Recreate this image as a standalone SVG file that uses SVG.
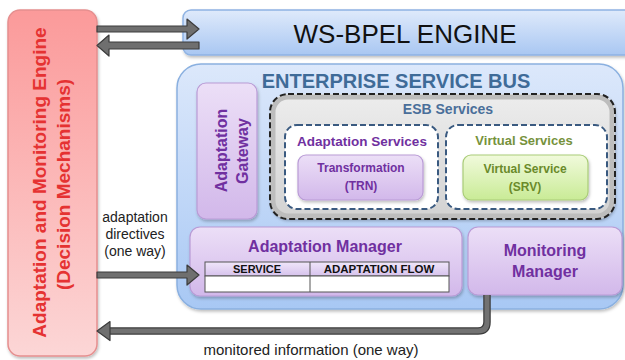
<svg xmlns="http://www.w3.org/2000/svg" width="625" height="360" viewBox="0 0 625 360">
<defs>
<linearGradient id="gRed" x1="0" y1="0" x2="0" y2="1"><stop offset="0" stop-color="#fb9a9a"/><stop offset="1" stop-color="#fcd6d6"/></linearGradient>
<linearGradient id="gBlue" x1="0" y1="0" x2="0" y2="1"><stop offset="0" stop-color="#dfeafb"/><stop offset="1" stop-color="#a9c7f2"/></linearGradient>
<linearGradient id="gEsb" x1="0" y1="0" x2="0" y2="1"><stop offset="0" stop-color="#dce8fb"/><stop offset="1" stop-color="#a8c8f4"/></linearGradient>
<linearGradient id="gPur" x1="0" y1="0" x2="0" y2="1"><stop offset="0" stop-color="#ecdff7"/><stop offset="1" stop-color="#d2b8ea"/></linearGradient>
<linearGradient id="gGray" x1="0" y1="0" x2="0" y2="1"><stop offset="0" stop-color="#ededed"/><stop offset="1" stop-color="#d2d2d2"/></linearGradient>
<linearGradient id="gGreen" x1="0" y1="0" x2="0" y2="1"><stop offset="0" stop-color="#f1fadc"/><stop offset="1" stop-color="#c9eb96"/></linearGradient>
<linearGradient id="gHead" x1="0" y1="0" x2="0" y2="1"><stop offset="0" stop-color="#f0e6fa"/><stop offset="1" stop-color="#d6c2ec"/></linearGradient>
<filter id="sh" x="-10%" y="-10%" width="120%" height="130%"><feDropShadow dx="1" dy="2" stdDeviation="1.5" flood-color="#000" flood-opacity="0.25"/></filter>
</defs>
<style>
.t{font-family:"Liberation Sans",Arial,sans-serif;font-weight:bold;text-anchor:middle}
.n{font-family:"Liberation Sans",Arial,sans-serif;text-anchor:middle;fill:#222}
.pur{fill:#7030a0}
.pbox{fill:url(#gPur);stroke:#b99bd6;stroke-width:1.2}
.arr{fill:#6f6f6f;stroke:#3c3c3c;stroke-width:1.2;stroke-linejoin:round}
.dash{stroke-dasharray:6 3;stroke-width:2}
</style>

<g id="engine">
<rect x="8" y="10" width="89" height="346" rx="12" fill="url(#gRed)" stroke="#e58f8f" stroke-width="1.5" filter="url(#sh)"/>
<text class="t" font-size="19" fill="#e53232" transform="translate(46,182.5) rotate(-90)">Adaptation and Monitoring Engine</text>
<text class="t" font-size="19" fill="#e53232" transform="translate(70,184.5) rotate(-90)">(Decision Mechanisms)</text>
</g>

<g id="wsbpel">
<rect x="183" y="10" width="450" height="45" rx="8" fill="url(#gBlue)" stroke="#8fb3e3" stroke-width="1.5" filter="url(#sh)"/>
<text x="405" y="43" font-family="'Liberation Sans',Arial,sans-serif" font-size="26" text-anchor="middle" fill="#111">WS-BPEL ENGINE</text>
</g>

<g id="esb">
<rect x="177" y="64" width="446" height="245" rx="24" fill="url(#gEsb)" stroke="#8ab0e0" stroke-width="1.5" filter="url(#sh)"/>
<text class="t" x="396" y="88" font-size="20" fill="#3f6b98">ENTERPRISE SERVICE BUS</text>
</g>

<g id="gateway">
<rect class="pbox" x="197" y="83" width="60" height="136" rx="9" filter="url(#sh)"/>
<text class="t pur" font-size="16" transform="translate(227,150.5) rotate(-90)">Adaptation</text>
<text class="t pur" font-size="16" transform="translate(248,151) rotate(-90)">Gateway</text>
</g>

<g id="esbservices">
<rect x="270" y="94" width="345" height="125" rx="18" fill="url(#gGray)" filter="url(#sh)"/>
<rect x="273" y="97" width="339" height="119" rx="15" fill="none" stroke="#bdbdbd" stroke-width="5"/>
<rect class="dash" x="270" y="94" width="345" height="125" rx="18" fill="none" stroke="#222"/>
<text class="t" x="448" y="114" font-size="14" fill="#4a6f9a">ESB Services</text>
</g>

<g id="adaptservices">
<rect class="dash" x="285" y="125" width="153" height="84" rx="12" fill="#fff" stroke="#3a5a80"/>
<text class="t pur" x="362" y="146" font-size="13.5">Adaptation Services</text>
</g>

<g id="trn">
<rect class="pbox" x="298" y="155" width="125" height="45" rx="8" filter="url(#sh)"/>
<text class="t pur" x="361" y="172" font-size="12">Transformation</text>
<text class="t pur" x="361" y="190" font-size="12">(TRN)</text>
</g>

<g id="virtualservices">
<rect class="dash" x="446" y="125" width="161" height="84" rx="12" fill="#fff" stroke="#3a5a80"/>
<text class="t" x="524" y="145" font-size="13" fill="#76923c">Virtual Services</text>
</g>

<g id="srv">
<rect x="463" y="155" width="125" height="45" rx="8" fill="url(#gGreen)" stroke="#a9cc78" stroke-width="1.2" filter="url(#sh)"/>
<text class="t" x="525" y="173" font-size="12" fill="#6a8a2a">Virtual Service</text>
<text class="t" x="525" y="191" font-size="12" fill="#6a8a2a">(SRV)</text>
</g>

<g id="adaptmanager">
<rect class="pbox" x="190" y="227" width="272" height="69" rx="10" filter="url(#sh)"/>
<text class="t pur" x="325" y="252" font-size="16">Adaptation Manager</text>
<rect x="205" y="262" width="244" height="14" fill="url(#gHead)" stroke="#555" stroke-width="1"/>
<rect x="205" y="276" width="244" height="16" fill="#fff" stroke="#555" stroke-width="1"/>
<line x1="310" y1="262" x2="310" y2="292" stroke="#555" stroke-width="1"/>
<text class="t" x="257" y="273" font-size="11" fill="#111">SERVICE</text>
<text class="t" x="379" y="273" font-size="11.5" fill="#111">ADAPTATION FLOW</text>
</g>

<g id="monmanager">
<rect class="pbox" x="468" y="227" width="154" height="68" rx="10" filter="url(#sh)"/>
<text class="t pur" x="545" y="256" font-size="16">Monitoring</text>
<text class="t pur" x="545" y="277" font-size="16">Manager</text>
</g>

<g id="connectors">
<path class="arr" d="M97,26 H187 V19 L199,29 L187,39 V32 H97 Z"/>
<path class="arr" d="M199,42 H109 V35 L97,45.5 L109,56 V49 H199 Z"/>
<path class="arr" d="M97,272 H187 V265 L199,275 L187,285 V278 H97 Z"/>
<path d="M487,295 V322 Q487,331 478,331 H106" fill="none" stroke="#3c3c3c" stroke-width="7.5"/>
<path d="M487,295 V322 Q487,331 478,331 H106" fill="none" stroke="#727272" stroke-width="5"/>
<path class="arr" d="M110,321.5 L97,331 L110,340.5 Z"/>
<text class="n" x="135" y="222" font-size="14">adaptation</text>
<text class="n" x="135" y="239" font-size="14">directives</text>
<text class="n" x="135" y="256" font-size="14">(one way)</text>
<text class="n" x="311" y="355" font-size="15">monitored information (one way)</text>
</g>
</svg>
